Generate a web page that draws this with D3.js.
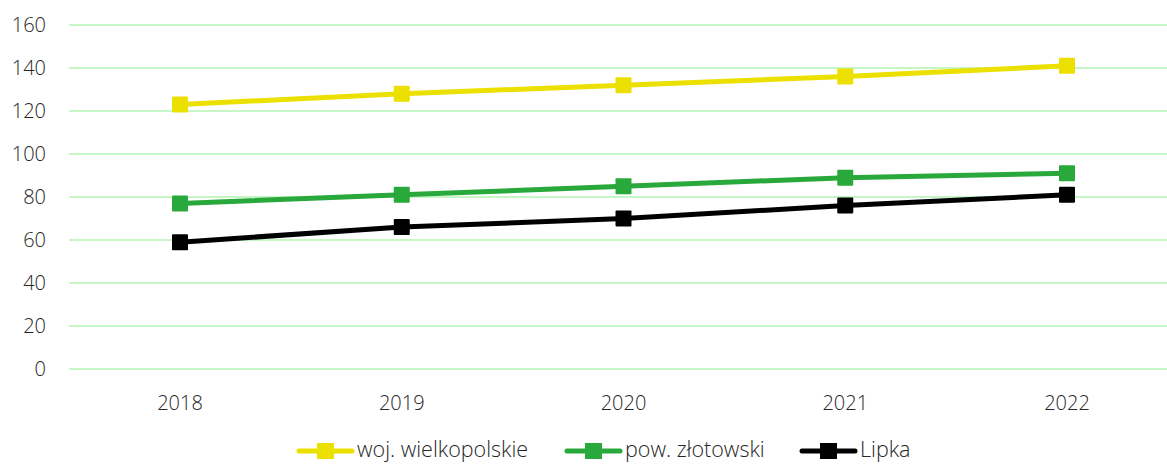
<!DOCTYPE html>
<html>
<head>
<meta charset="utf-8">
<script src="https://cdn.jsdelivr.net/npm/d3@7"></script>
<style>
  body { margin: 0; background: #fff; }
  text { font-family: "Open Sans", "Noto Sans", sans-serif; font-weight: 300; fill: #262626; }
</style>
</head>
<body>
<svg class="frame" width="1167" height="465"></svg>
<script>
const years = ['2018', '2019', '2020', '2021', '2022'];
const wojValues = [123, 128, 132, 136, 141];
const powValues = [77, 81, 85, 89, 91];
const lipkaValues = [59, 66, 70, 76, 81];
const yTicks = [0, 20, 40, 60, 80, 100, 120, 140, 160];
const seriesNames = ['woj. wielkopolskie', 'pow. złotowski', 'Lipka'];
const seriesColours = ['#ebe000', '#29a83b', '#000000'];

const series = [wojValues, powValues, lipkaValues].map((values, i) => ({
  name: seriesNames[i],
  colour: seriesColours[i],
  points: values.map((v, j) => ({ year: years[j], value: v })),
}));

const svg = d3.select('.frame');

const x = d3.scalePoint().domain(years).range([180, 1067]);
const y = d3.scaleLinear().domain([0, 160]).range([369, 25]);

/* gridlines */
svg.append('g')
  .selectAll('line')
  .data(yTicks)
  .enter().append('line')
  .attr('x1', 69)
  .attr('x2', 1167)
  .attr('y1', (d) => y(d))
  .attr('y2', (d) => y(d))
  .attr('stroke', '#c6f6c6')
  .attr('stroke-width', 2);

/* y axis labels */
svg.append('g')
  .selectAll('text')
  .data(yTicks)
  .enter().append('text')
  .attr('x', 46)
  .attr('y', (d) => y(d))
  .attr('dy', '0.35em')
  .attr('text-anchor', 'end')
  .attr('font-size', 20)
  .text((d) => d);

/* x axis labels */
svg.append('g')
  .selectAll('text')
  .data(years)
  .enter().append('text')
  .attr('x', (d) => x(d))
  .attr('y', 403)
  .attr('dy', '0.35em')
  .attr('text-anchor', 'middle')
  .attr('font-size', 20)
  .text((d) => d);

const line = d3.line()
  .x((d) => x(d.year))
  .y((d) => y(d.value));

const groups = svg.append('g')
  .selectAll('g')
  .data(series)
  .enter().append('g');

groups.append('path')
  .attr('d', (d) => line(d.points))
  .attr('fill', 'none')
  .attr('stroke', (d) => d.colour)
  .attr('stroke-width', 5);

groups.selectAll('rect')
  .data((d) => d.points.map((p) => ({ ...p, colour: d.colour })))
  .enter().append('rect')
  .attr('x', (d) => x(d.year) - 8)
  .attr('y', (d) => y(d.value) - 8)
  .attr('width', 16)
  .attr('height', 16)
  .attr('rx', 1)
  .attr('fill', (d) => d.colour);

/* legend */
const legendX = [297, 565, 800];
const legend = svg.append('g')
  .selectAll('g')
  .data(series)
  .enter().append('g')
  .attr('transform', (d, i) => `translate(${legendX[i]},451)`);

legend.append('line')
  .attr('x1', 2)
  .attr('x2', 55)
  .attr('stroke', (d) => d.colour)
  .attr('stroke-width', 5)
  .attr('stroke-linecap', 'round');

legend.append('rect')
  .attr('x', 20)
  .attr('y', -8)
  .attr('width', 17)
  .attr('height', 16)
  .attr('fill', (d) => d.colour);

legend.append('text')
  .attr('x', 60)
  .attr('dy', '0.3em')
  .attr('font-size', 21.5)
  .text((d) => d.name);
</script>
</body>
</html>
